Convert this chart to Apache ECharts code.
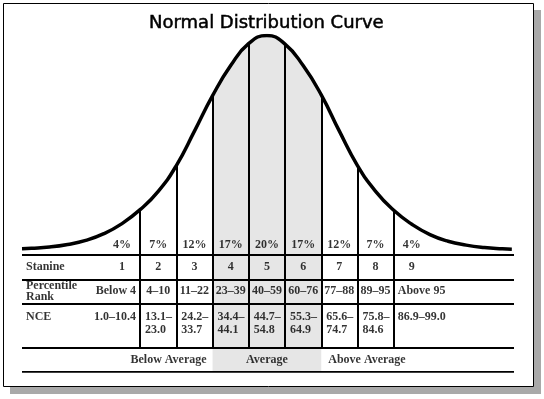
<!DOCTYPE html>
<html>
<head>
<meta charset="utf-8">
<style>
    html, body { margin: 0; padding: 0; background: #fff; }
    #main { width: 544px; height: 399px; }
</style>
</head>
<body>
<div id="main"></div>
<script src="https://cdn.jsdelivr.net/npm/echarts@6/dist/echarts.min.js"></script>
<script>
    // 曲线数据（横轴为标准分 z，纵轴为峰值的百分比）
    var curveZ = [-3.38, -3.25, -3.0, -2.75, -2.5, -2.25, -2.0, -1.75, -1.5, -1.25, -1.0, -0.75, -0.5, -0.25, 0,
        0.25, 0.5, 0.75, 1.0, 1.25, 1.5, 1.75, 2.0, 2.25, 2.5, 2.75, 3.0, 3.25, 3.38];
    var curveH = [0.8, 1.0, 1.6, 2.8, 4.7, 7.8, 12.5, 19.0, 27.5, 39.5, 55.5, 72.0, 86.0, 96.3, 100,
        96.0, 86.0, 72.4, 55.5, 39.5, 27.5, 18.7, 12.2, 7.4, 4.3, 2.5, 1.4, 0.8, 0.6];

    // 标准九分边界与中心
    var boundaries = [-1.75, -1.25, -0.75, -0.25, 0.25, 0.75, 1.25, 1.75];
    var stanineCenters = [-2, -1.5, -1, -0.5, 0, 0.5, 1, 1.5, 2];
    var averageRange = [-0.75, 0.75];

    // 表格文字
    var percents = ['4%', '7%', '12%', '17%', '20%', '17%', '12%', '7%', '4%'];
    var stanines = ['1', '2', '3', '4', '5', '6', '7', '8', '9'];
    var percentileRanks = ['Below 4', '4–10', '11–22', '23–39', '40–59', '60–76', '77–88', '89–95', 'Above 95'];
    var nceRanges = ['1.0–10.4', '13.1–\n23.0', '24.2–\n33.7', '34.4–\n44.1', '44.7–\n54.8',
        '55.3–\n64.9', '65.6–\n74.7', '75.8–\n84.6', '86.9–99.0'];
    var rowLabels = ['Stanine', 'Percentile\nRank', 'NCE'];
    var bands = ['Below Average', 'Average', 'Above Average'];

    // 布局
    var X_MIN = -3.38, X_MAX = 3.41;
    var Y_FLOOR = -2.8;
    var ROW_H = [24.3, 24, 44, 24.4];
    var rowEdges = [0];
    ROW_H.forEach(function (h) { rowEdges.push(rowEdges[rowEdges.length - 1] + h); });
    var TABLE_H = rowEdges[4];
    var stanineY = rowEdges[0] + ROW_H[0] / 2;
    var rankY = rowEdges[1] + ROW_H[1] / 2;
    var nceY = rowEdges[2] + 13.7;
    var bandY = rowEdges[3] + ROW_H[3] / 2;

    var SERIF = '"Liberation Serif", "Times New Roman", serif';
    var SHADE = '#e6e6e6';

    function topAt(z) {
        return curveH[curveZ.indexOf(z)];
    }

    function textSeries(grid, items, label) {
        return {
            type: 'scatter',
            xAxisIndex: grid,
            yAxisIndex: grid,
            symbolSize: 0,
            silent: true,
            z: 6,
            data: items.map(function (it) {
                return {value: [it[0], it[1]], name: it[2]};
            }),
            label: Object.assign({
                show: true,
                formatter: '{b}',
                color: '#000',
                fontFamily: SERIF,
                fontWeight: 'bold',
                fontSize: 12,
                lineHeight: 13
            }, label)
        };
    }

    var midData = [];
    curveZ.forEach(function (z, i) {
        if (z >= averageRange[0] && z <= averageRange[1]) {
            midData.push([z, curveH[i]]);
        }
    });

    var hLines = rowEdges.map(function (y) {
        return {coords: [[X_MIN, y], [X_MAX, y]]};
    });
    var vLinesTable = boundaries.map(function (z) {
        return {coords: [[z, 0], [z, rowEdges[3]]]};
    });
    var vLinesCurve = boundaries.map(function (z) {
        return {coords: [[z, topAt(z)], [z, Y_FLOOR]]};
    });

    // 中间七列：百分位居中，NCE 两行左对齐
    var rankMid = [], nceMid = [];
    for (var i = 1; i < 8; i++) {
        rankMid.push([stanineCenters[i], rankY, percentileRanks[i]]);
        nceMid.push([boundaries[i - 1], nceY + 6.5, nceRanges[i]]);
    }

    var myChart = echarts.init(document.getElementById('main'));

    var option = {
        animation: false,
        backgroundColor: '#fff',
        title: {
            text: 'Normal Distribution Curve',
            left: 149,
            top: 14,
            padding: 0,
            textStyle: {
                fontFamily: '"DejaVu Sans", sans-serif',
                fontSize: 18,
                fontWeight: 'normal',
                color: '#000',
                textBorderColor: '#000',
                textBorderWidth: 0.5
            }
        },
        graphic: [
            {type: 'rect', z: -10, silent: true, shape: {x: 10, y: 10, width: 531, height: 384}, style: {fill: '#a9a9a9'}},
            {type: 'rect', z: -9, silent: true, shape: {x: 3.5, y: 3.5, width: 530, height: 383}, style: {fill: '#fff', stroke: '#000', lineWidth: 1}}
        ],
        grid: [
            {left: 22, right: 30, top: 35.5, height: 221},
            {left: 22, right: 30, top: 255, height: TABLE_H}
        ],
        xAxis: [
            {type: 'value', gridIndex: 0, min: X_MIN, max: X_MAX, show: false},
            {type: 'value', gridIndex: 1, min: X_MIN, max: X_MAX, show: false}
        ],
        yAxis: [
            {type: 'value', gridIndex: 0, min: Y_FLOOR, max: 100, show: false},
            {type: 'value', gridIndex: 1, min: 0, max: TABLE_H, inverse: true, show: false}
        ],
        series: [
            // 平均区阴影（曲线下）
            {
                type: 'line',
                xAxisIndex: 0,
                yAxisIndex: 0,
                data: midData,
                smooth: 0.5,
                showSymbol: false,
                silent: true,
                lineStyle: {width: 0},
                areaStyle: {color: SHADE, opacity: 1, origin: 'start'},
                z: 1
            },
            // 平均区阴影（表格内）
            {
                type: 'custom',
                xAxisIndex: 1,
                yAxisIndex: 1,
                silent: true,
                z: 1,
                data: [[averageRange[0], averageRange[1]]],
                renderItem: function (params, api) {
                    var p0 = api.coord([api.value(0), 0]);
                    var p1 = api.coord([api.value(1), TABLE_H]);
                    return {
                        type: 'rect',
                        shape: {x: p0[0], y: p0[1], width: p1[0] - p0[0], height: p1[1] - p0[1]},
                        style: {fill: SHADE}
                    };
                }
            },
            // 分界竖线（曲线下）
            {
                type: 'lines',
                coordinateSystem: 'cartesian2d',
                xAxisIndex: 0,
                yAxisIndex: 0,
                silent: true,
                z: 3,
                lineStyle: {color: '#000', width: 2, opacity: 1},
                data: vLinesCurve
            },
            // 表格线
            {
                type: 'lines',
                coordinateSystem: 'cartesian2d',
                xAxisIndex: 1,
                yAxisIndex: 1,
                silent: true,
                z: 3,
                lineStyle: {color: '#000', width: 2, opacity: 1},
                data: hLines.concat(vLinesTable)
            },
            // 正态曲线
            {
                type: 'line',
                xAxisIndex: 0,
                yAxisIndex: 0,
                data: curveZ.map(function (z, i) { return [z, curveH[i]]; }),
                smooth: 0.5,
                showSymbol: false,
                silent: true,
                lineStyle: {color: '#000', width: 3.5},
                z: 4
            },
            textSeries(0, stanineCenters.map(function (x, i) { return [x, 0, percents[i]]; }),
                {position: 'top', distance: 0, lineHeight: 12}),
            textSeries(1, stanineCenters.map(function (x, i) { return [x, stanineY, stanines[i]]; }),
                {position: 'inside'}),
            textSeries(1, rankMid, {position: 'inside'}),
            textSeries(1, [[boundaries[0], rankY, percentileRanks[0]], [boundaries[0], nceY, nceRanges[0]]],
                {position: 'left', distance: 4}),
            textSeries(1, [[boundaries[7], rankY, percentileRanks[8]], [boundaries[7], nceY, nceRanges[8]]],
                {position: 'right', distance: 4}),
            textSeries(1, nceMid, {position: 'right', distance: 5}),
            textSeries(1, [[X_MIN, stanineY, rowLabels[0]], [X_MIN, rankY, rowLabels[1]], [X_MIN, nceY, rowLabels[2]]],
                {position: 'right', distance: 4, lineHeight: 11}),
            textSeries(1, [[averageRange[0], bandY, bands[0]]], {position: 'left', distance: 6}),
            textSeries(1, [[0, bandY, bands[1]]], {position: 'inside'}),
            textSeries(1, [[averageRange[1], bandY, bands[2]]], {position: 'right', distance: 7})
        ]
    };

    myChart.setOption(option);
</script>
</body>
</html>
